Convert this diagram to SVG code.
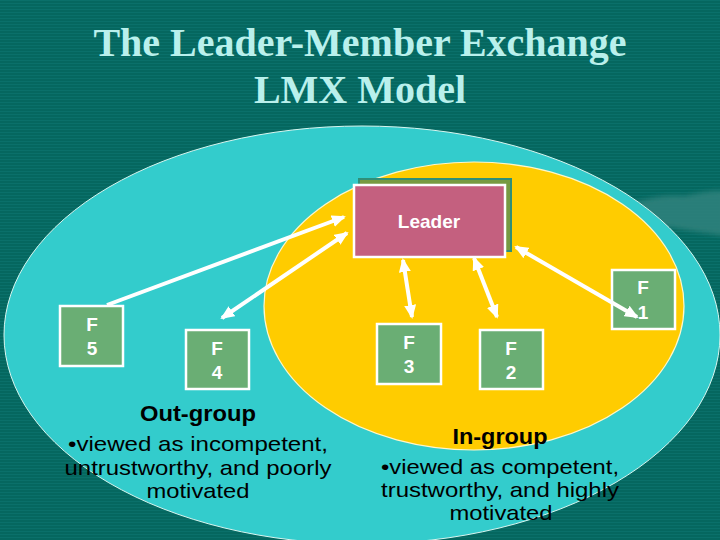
<svg xmlns="http://www.w3.org/2000/svg" width="720" height="540" viewBox="0 0 720 540">
<defs>
<style>
.title{font-family:"Liberation Serif","Times New Roman",serif;font-size:40px;font-weight:bold;fill:#b9f0ec;text-anchor:middle}
.box{fill:#6aae74;stroke:#ffffff;stroke-width:2.5}
.flab{font-family:"Liberation Sans",Arial,sans-serif;font-size:19px;font-weight:bold;fill:#ffffff;text-anchor:middle}
.conn{stroke:#ffffff;stroke-width:4;fill:none}
.head{font-family:"Liberation Sans",Arial,sans-serif;font-size:22px;font-weight:bold;fill:#000000;text-anchor:middle}
.body{font-family:"Liberation Sans",Arial,sans-serif;font-size:21px;fill:#000000;text-anchor:middle}
</style>
<pattern id="stripes" width="4" height="3" patternUnits="userSpaceOnUse">
<rect width="4" height="3" fill="#05675f"/>
<rect width="4" height="1" fill="#0a706a"/>
</pattern>
<marker id="ah" viewBox="0 0 14 12" markerWidth="14" markerHeight="12" refX="12" refY="6" orient="auto-start-reverse" markerUnits="userSpaceOnUse">
<path d="M0,0 L14,6 L0,12 z" fill="#ffffff"/>
</marker>
<filter id="blur" x="-20%" y="-50%" width="140%" height="200%">
<feGaussianBlur stdDeviation="2.5"/>
</filter>
</defs>
<rect width="720" height="540" fill="url(#stripes)"/>
<path d="M625,205 C650,198 665,194 685,196 C700,193 712,190 725,191 L725,236 C700,232 670,228 640,222 z" fill="#2f817b" opacity="0.9" filter="url(#blur)"/>
<text class="title" x="360" y="56">The Leader-Member Exchange</text>
<text class="title" x="360" y="103">LMX Model</text>
<ellipse id="outer" cx="362" cy="335" rx="358" ry="209" fill="#33cccc" stroke="#d8f6f0" stroke-width="1"/>
<ellipse id="inner" cx="474" cy="306" rx="210" ry="144" fill="#ffcc00" stroke="#fff6c8" stroke-width="1.2"/>
<g id="leader">
<rect x="359" y="179" width="152" height="72" fill="#779a42" stroke="#2f8f78" stroke-width="2"/>
<rect x="354" y="185" width="151" height="72" fill="#c4607f" stroke="#ffffff" stroke-width="2.5"/>
<text x="429" y="228" font-family="Liberation Sans, Arial, sans-serif" font-size="19" font-weight="bold" fill="#ffffff" text-anchor="middle">Leader</text>
</g>
<g id="f1">
<rect class="box" x="612" y="270" width="63" height="59"/>
<text class="flab" x="643" y="294">F</text>
<text class="flab" x="643" y="319">1</text>
</g>
<g id="f2">
<rect class="box" x="480" y="330" width="63" height="59"/>
<text class="flab" x="511" y="355">F</text>
<text class="flab" x="511" y="379">2</text>
</g>
<g id="f3">
<rect class="box" x="377" y="324" width="64" height="60"/>
<text class="flab" x="409" y="349">F</text>
<text class="flab" x="409" y="373">3</text>
</g>
<g id="f4">
<rect class="box" x="186" y="330" width="63" height="59"/>
<text class="flab" x="217" y="355">F</text>
<text class="flab" x="217" y="379">4</text>
</g>
<g id="f5">
<rect class="box" x="60" y="306" width="63" height="60"/>
<text class="flab" x="92" y="331">F</text>
<text class="flab" x="92" y="355">5</text>
</g>
<g id="connectors">
<line class="conn" x1="107" y1="305" x2="344" y2="217" marker-end="url(#ah)"/>
<line class="conn" x1="222" y1="318" x2="347" y2="233" marker-start="url(#ah)" marker-end="url(#ah)"/>
<line class="conn" x1="403" y1="260" x2="412" y2="317" marker-start="url(#ah)" marker-end="url(#ah)"/>
<line class="conn" x1="474" y1="258" x2="497" y2="317" marker-start="url(#ah)" marker-end="url(#ah)"/>
<line class="conn" x1="516" y1="247" x2="637" y2="317" marker-start="url(#ah)" marker-end="url(#ah)"/>
</g>
<g id="outgroup">
<text class="head" x="198" y="421" textLength="116" lengthAdjust="spacingAndGlyphs">Out-group</text>
<text class="body" x="198" y="451" textLength="260" lengthAdjust="spacingAndGlyphs">•viewed as incompetent,</text>
<text class="body" x="198" y="475" textLength="267" lengthAdjust="spacingAndGlyphs">untrustworthy, and poorly</text>
<text class="body" x="198" y="498" textLength="103" lengthAdjust="spacingAndGlyphs">motivated</text>
</g>
<g id="ingroup">
<text class="head" x="500" y="444" textLength="95" lengthAdjust="spacingAndGlyphs">In-group</text>
<text class="body" x="500" y="474" textLength="238" lengthAdjust="spacingAndGlyphs">•viewed as competent,</text>
<text class="body" x="500" y="497" textLength="238" lengthAdjust="spacingAndGlyphs">trustworthy, and highly</text>
<text class="body" x="501" y="520" textLength="103" lengthAdjust="spacingAndGlyphs">motivated</text>
</g>
</svg>
